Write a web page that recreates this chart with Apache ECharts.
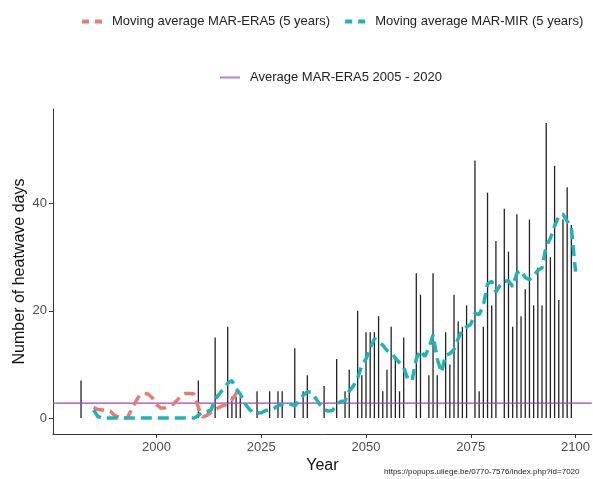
<!DOCTYPE html>
<html>
<head>
<meta charset="utf-8">
<script src="https://cdn.jsdelivr.net/npm/echarts@6/dist/echarts.min.js"></script>
<style>
  html, body { margin: 0; padding: 0; background: #ffffff; }
  #chart { width: 593px; height: 479px; }
</style>
</head>
<body>
<div id="chart"></div>
<script>
// ---- data ----
const barYears  = [1982, 2010, 2014, 2017, 2018, 2019, 2020, 2024, 2027, 2029, 2030, 2033, 2035, 2036,
  2040, 2043, 2045, 2046, 2048, 2049, 2050, 2051, 2052, 2053, 2054, 2055, 2056, 2057, 2058, 2059,
  2062, 2063, 2065, 2066, 2067, 2069, 2070, 2071, 2072, 2073, 2074, 2076, 2077, 2078, 2079, 2080,
  2081, 2083, 2084, 2085, 2086, 2087, 2088, 2089, 2090, 2091, 2092, 2093, 2094, 2095, 2096, 2097,
  2098, 2099];
const barValues = [7, 7, 15, 17, 4, 4, 4, 5, 5, 5, 5, 13, 5, 8,
  6, 11, 5, 9, 20, 8, 16, 16, 16, 19, 5, 9, 17, 11, 5, 15,
  27, 23, 8, 27, 8, 16, 10, 23, 18, 17, 21, 48, 5, 17, 42, 21,
  33, 39, 31, 17, 38, 19, 24, 37, 21, 28, 21, 55, 30, 47, 22, 37,
  43, 36];

const era5Years = [1985, 1986, 1987, 1988, 1989, 1990, 1991, 1992, 1993, 1994, 1995, 1996,
  1997, 1998, 1999, 2000, 2001, 2002, 2003, 2004, 2005, 2006, 2007, 2008,
  2009, 2010, 2011, 2012, 2013, 2014, 2015, 2016, 2017, 2018, 2019, 2020];
const era5Values = [2.0, 1.6, 1.5, 1.5, 1.3, 0.5, 0.2, 0, 0, 1.5, 3.0, 4.3,
  4.6, 4.5, 3.8, 2.5, 1.9, 1.9, 2.2, 2.6, 3.4, 4.2, 4.6, 4.6,
  4.5, 2.0, 0.2, 0.5, 1.0, 1.6, 2.0, 2.4, 2.6, 3.4, 4.6, 5.9];

const mirYears = [1985, 1986, 1987, 1988, 1989, 1990, 1991, 1992, 1993, 1994, 1995, 1996, 1997, 1998, 1999,
  2000, 2001, 2002, 2003, 2004, 2005, 2006, 2007, 2008, 2009, 2010, 2011, 2012, 2013, 2014,
  2015, 2016, 2017, 2018, 2019, 2020, 2021, 2022, 2023, 2024, 2025, 2026, 2027, 2028, 2029,
  2030, 2031, 2032, 2033, 2034, 2035, 2036, 2037, 2038, 2039, 2040, 2041, 2042, 2043, 2044,
  2045, 2046, 2047, 2048, 2049, 2050, 2051, 2052, 2053, 2054, 2055, 2056, 2057, 2058, 2059,
  2060, 2061, 2062, 2063, 2064, 2065, 2066, 2067, 2068, 2069, 2070, 2071, 2072, 2073, 2074,
  2075, 2076, 2077, 2078, 2079, 2080, 2081, 2082, 2083, 2084, 2085, 2086, 2087, 2088, 2089,
  2090, 2091, 2092, 2093, 2094, 2095, 2096, 2097, 2098, 2099, 2100];
const mirValues = [1.5, 0.3, 0, 0, 0, 0, 0, 0, 0, 0, 0, 0, 0, 0, 0,
  0, 0, 0, 0, 0, 0, 0, 0, 0, 0, 0.5, 1.2, 1.2, 1.5, 3.5,
  4.5, 5.5, 6.5, 7.0, 5.5, 4.5, 2.8, 1.8, 1.0, 0.9, 1.0, 1.4, 1.6, 1.8, 2.3,
  2.6, 2.8, 2.6, 2.3, 3.2, 4.2, 4.9, 4.8, 3.7, 2.5, 1.6, 1.3, 1.4, 2.6, 3.1,
  3.2, 5.0, 6.0, 7.5, 9.8, 11, 13, 14.8, 14.2, 13.6, 12.6, 12.2, 11.2, 10.3, 9.4,
  7.2, 7.0, 11, 12.6, 11.5, 13, 15.5, 11, 8.5, 11.7, 12.0, 12.8, 14.8, 16.5, 17.0,
  17.5, 19.5, 19.3, 21.0, 25, 25.5, 23.5, 24.7, 25.5, 25.6, 24.5, 27, 27.5, 26.2, 25.8,
  26.5, 27.5, 28, 32, 33.5, 35.8, 37.6, 38, 36.7, 35.5, 27.3];

const averageEra5 = 2.8;

const xRange = [1975.31, 2103.88];
const yRange = [-2.96, 57.59];
const xTicks = [2000, 2025, 2050, 2075, 2100];
const yTicks = [0, 20, 40];

const nameEra5 = 'Moving average MAR-ERA5 (5 years)';
const nameMir  = 'Moving average MAR-MIR (5 years)';
const nameAvg  = 'Average MAR-ERA5 2005 - 2020';

// ---- chart ----
const FONT = '"Liberation Sans", Arial, sans-serif';
const RED = '#E97B73', CYAN = '#1DB4B8', PURPLE = '#A040C4';
const DASH_ICON = 'path://M0,0h7v4h-7z M13,0h7v4h-7z';
const LINE_ICON = 'path://M0,0h20v2h-20z';

const pairs = (xs, ys) => xs.map((x, i) => [x, ys[i]]);

const chart = echarts.init(document.getElementById('chart'), null, { renderer: 'canvas' });
chart.setOption({
  animation: false,
  backgroundColor: '#ffffff',
  textStyle: { fontFamily: FONT },
  grid: { left: 53, top: 109, right: 0, bottom: 43 },
  legend: [
    {
      data: [{ name: nameEra5, icon: DASH_ICON }, { name: nameMir, icon: DASH_ICON }],
      top: 15, left: 82, padding: 0,
      itemWidth: 20, itemHeight: 4, itemGap: 15,
      textStyle: { fontFamily: FONT, fontSize: 13, color: '#222', padding: [0, 0, 0, 5] }
    },
    {
      data: [{ name: nameAvg, icon: LINE_ICON, itemStyle: { color: '#B585D3' } }],
      top: 71, left: 220, padding: 0,
      itemWidth: 20, itemHeight: 2,
      textStyle: { fontFamily: FONT, fontSize: 13, color: '#222', padding: [0, 0, 0, 5] }
    }
  ],
  xAxis: {
    type: 'value',
    min: xRange[0], max: xRange[1],
    name: 'Year', nameLocation: 'middle', nameGap: 24, nameMoveOverlap: false,
    nameTextStyle: { fontFamily: FONT, fontSize: 16, color: '#111' },
    axisLine: { show: true, onZero: false, lineStyle: { color: '#333', width: 1 } },
    axisTick: { show: true, length: 4, lineStyle: { color: '#333' }, customValues: xTicks },
    axisLabel: { show: true, margin: 7, fontSize: 13, color: '#4D4D4D', fontFamily: FONT,
      customValues: xTicks, formatter: v => String(v) },
    splitLine: { show: false }
  },
  yAxis: {
    type: 'value',
    min: yRange[0], max: yRange[1],
    name: 'Number of heatwave days', nameLocation: 'middle', nameGap: 25, nameRotate: 90, nameMoveOverlap: false,
    nameTextStyle: { fontFamily: FONT, fontSize: 16, color: '#111' },
    axisLine: { show: true, onZero: false, lineStyle: { color: '#333', width: 1 } },
    axisTick: { show: true, length: 4, lineStyle: { color: '#333' }, customValues: yTicks },
    axisLabel: { show: true, margin: 6, fontSize: 13, color: '#4D4D4D', fontFamily: FONT,
      customValues: yTicks, formatter: v => String(v) },
    splitLine: { show: false }
  },
  series: [
    {
      type: 'bar',
      data: pairs(barYears, barValues),
      barWidth: 1.3,
      itemStyle: { color: '#222' },
      z: 1
    },
    {
      name: nameAvg,
      type: 'line',
      data: xRange.map(x => [x, averageEra5]),
      symbol: 'none',
      color: PURPLE,
      lineStyle: { color: PURPLE, width: 1.2 },
      itemStyle: { color: PURPLE },
      z: 2
    },
    {
      name: nameEra5,
      type: 'line',
      data: pairs(era5Years, era5Values),
      symbol: 'none',
      lineStyle: { color: RED, width: 3.5, type: [11, 6] },
      itemStyle: { color: RED },
      z: 3
    },
    {
      name: nameMir,
      type: 'line',
      data: pairs(mirYears, mirValues),
      symbol: 'none',
      lineStyle: { color: CYAN, width: 3.5, type: [11, 6] },
      itemStyle: { color: CYAN },
      z: 4
    }
  ],
  graphic: [
    {
      type: 'text', left: 384, top: 468,
      style: { text: 'https://popups.uliege.be/0770-7576/index.php?id=7020', fontFamily: FONT, fontSize: 8, fill: '#222' }
    }
  ]
});
</script>
</body>
</html>
